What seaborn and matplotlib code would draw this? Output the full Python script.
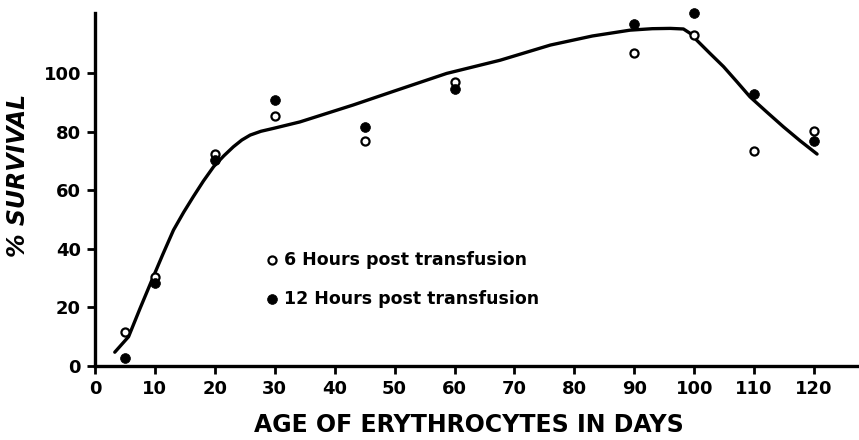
import numpy as np
import pandas as pd
import matplotlib
matplotlib.use("Agg")
import matplotlib.pyplot as plt
import seaborn as sns

# age of erythrocytes (days) and % survival
days = [5, 10, 20, 30, 45, 60, 90, 100, 110, 120]
surv_6h = [11.6, 30.4, 72.4, 85.4, 77.0, 97.1, 107.0, 113.2, 73.4, 80.2]
surv_12h = [2.7, 28.2, 70.3, 90.9, 81.5, 94.5, 116.8, 120.7, 92.9, 76.8]

# hand-drawn fitted curve
curve_x = [3.3, 5.6, 7.5, 9.5, 11.3, 13.1, 14.8, 16.4, 18.1, 19.8, 21.5,
           23.1, 24.5, 25.9, 27.7, 29.8, 34.2, 43.1, 50.0, 58.7, 67.6,
           76.0, 83.0, 89.3, 93.0, 96.0, 98.2, 99.4, 100.4, 102.6, 104.9,
           107.1, 109.3, 112.1, 114.9, 117.7, 120.5]
curve_y = [4.6, 9.9, 19.5, 29.3, 38.0, 46.4, 52.5, 57.8, 63.2, 68.1, 71.8,
           74.9, 77.2, 78.9, 80.2, 81.2, 83.4, 89.2, 94.0, 100.0, 104.5,
           109.7, 112.8, 114.8, 115.3, 115.4, 115.2, 113.6, 111.4, 106.9,
           102.3, 97.2, 92.0, 86.8, 81.7, 76.9, 72.4]

x_ticks = list(range(0, 130, 10))
y_ticks = [0, 20, 40, 60, 80, 100]

sns.set_style("ticks")
plt.rcParams["font.family"] = ["DejaVu Sans"]
plt.rcParams["font.weight"] = "bold"
for key in ["text.color", "axes.labelcolor", "xtick.color", "ytick.color",
            "axes.edgecolor"]:
    plt.rcParams[key] = "black"

fig = plt.figure(figsize=(8.59, 4.4), dpi=100)
ax = fig.add_axes([0.1106, 0.169, 0.8894, 0.801])

curve = pd.DataFrame({"x": curve_x, "y": curve_y})
sns.lineplot(data=curve, x="x", y="y", color="black", linewidth=2.4,
             estimator=None, ax=ax)

sns.scatterplot(x=days, y=surv_6h, s=34, facecolor="white",
                edgecolor="black", linewidth=1.6, zorder=5, ax=ax,
                clip_on=False, label="6 Hours post transfusion")
sns.scatterplot(x=days, y=surv_12h, s=50, color="black",
                edgecolor="black", linewidth=0.5, zorder=5, ax=ax,
                clip_on=False, label="12 Hours post transfusion")

ax.set_xlim(0, 127.5)
ax.set_ylim(0, 120.6)
ax.set_xticks(x_ticks)
ax.set_yticks(y_ticks)
ax.tick_params(axis="both", labelsize=13, width=2, length=6, direction="out",
               pad=4, colors="black")
for lab in ax.get_xticklabels() + ax.get_yticklabels():
    lab.set_fontweight("bold")

for side in ["top", "right"]:
    ax.spines[side].set_visible(False)
for side in ["left", "bottom"]:
    ax.spines[side].set_linewidth(2.4)
    ax.spines[side].set_color("black")

ax.set_xlabel("AGE OF ERYTHROCYTES IN DAYS", fontsize=17, fontweight="bold")
ax.set_ylabel("% SURVIVAL", fontsize=17, fontweight="bold", style="italic")
ax.xaxis.set_label_coords(0.49, -0.134)
ax.yaxis.set_label_coords(-0.085, 0.54)

leg = ax.legend(loc="center left", bbox_to_anchor=(0.213, 0.245),
                frameon=False, fontsize=12.5, handletextpad=0.3,
                labelspacing=1.2, borderaxespad=0, handlelength=0.8)
for t in leg.get_texts():
    t.set_fontweight("bold")
    t.set_color("black")

fig.savefig("out.png", dpi=100)
